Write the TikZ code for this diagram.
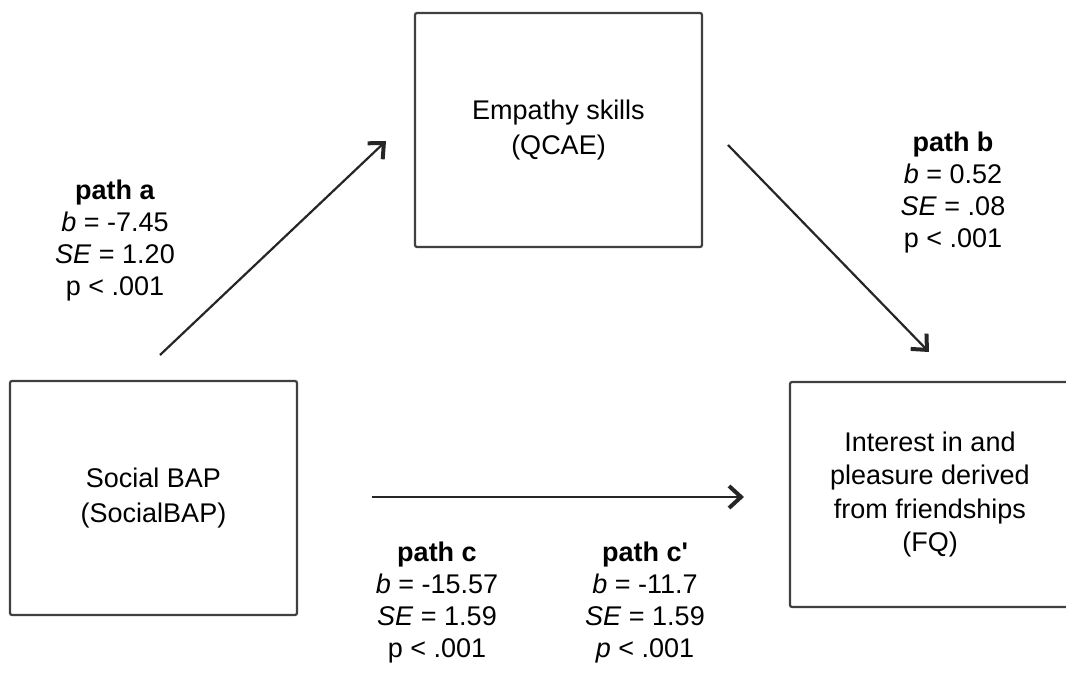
\documentclass[tikz,border=0pt]{standalone}
\usepackage{fontspec}
\setmainfont{Liberation Sans}
\usetikzlibrary{arrows.meta}

\tikzset{
  varbox/.style={draw=black!75, line width=1.1pt, rounded corners=1pt,
    minimum width=143.5pt, minimum height=117pt, inner sep=0pt,
    align=center, font=\fontsize{13.5}{17.5}\selectfont},
  pathlabel/.style={align=center, font=\fontsize{13.5}{16}\selectfont},
  patharrow/.style={draw=black!85, line width=1.1pt,
    -{Straight Barb[length=6pt, width=11pt, line width=2pt]}}
}

\begin{document}
\begin{tikzpicture}[x=0.5pt, y=-0.5pt]
        \useasboundingbox (0,0) rectangle (1066,684);

        % Boxes
        \node[varbox] (social) at (153.5,498) {Social BAP\\(SocialBAP)};
        \node[varbox] (qcae) at (558.5,130) {Empathy skills\\(QCAE)};
        \node[varbox, minimum width=140pt, minimum height=112.5pt, font=\fontsize{13.5}{16.8}\selectfont]
            (fq) at (930,494.5) {Interest in and\\pleasure derived\\from friendships\\(FQ)};

        % Arrow ends
        \coordinate (a-from) at (160,355);
        \coordinate (a-to) at (386,141);
        \coordinate (b-from) at (728,145);
        \coordinate (b-to) at (929,352);
        \coordinate (c-from) at (372,497);
        \coordinate (c-to) at (744,497);

        \draw[patharrow] (a-from) -- (a-to);
        \draw[patharrow] (b-from) -- (b-to);
        \draw[patharrow] (c-from) -- (c-to);

        % Path coefficients
        \node[pathlabel] (patha) at (115,241)
            {\textbf{path a}\\\textit{b} = -7.45\\\textit{SE} = 1.20\\p < .001};
        \node[pathlabel] (pathb) at (953,193)
            {\textbf{path b}\\\textit{b} = 0.52\\\textit{SE} = .08\\p < .001};
        \node[pathlabel] (pathc) at (437,603)
            {\textbf{path c}\\\textit{b} = -15.57\\\textit{SE} = 1.59\\p < .001};
        \node[pathlabel] (pathcc) at (645,603)
            {\textbf{path c\textquotesingle}\\\textit{b} = -11.7\\\textit{SE} = 1.59\\\textit{p} < .001};
    \end{tikzpicture}
\end{document}
